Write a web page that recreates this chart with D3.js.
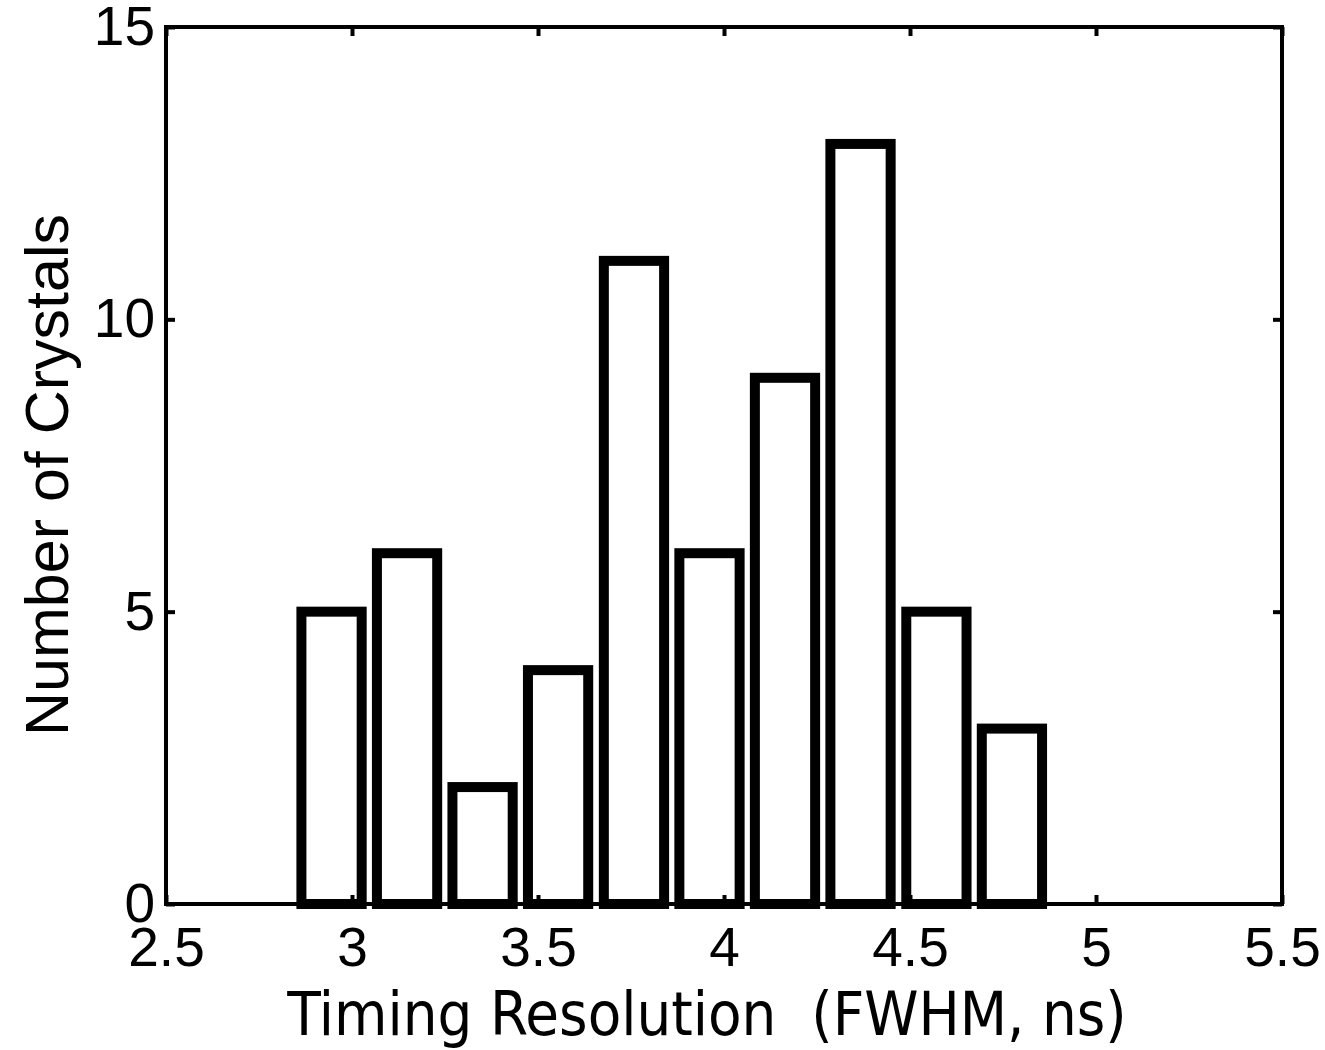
<!DOCTYPE html>
<html>
<head>
<meta charset="utf-8">
<script src="https://cdn.jsdelivr.net/npm/d3@7"></script>
<style>
  body { margin: 0; background: #fff; }
  .tick text { font-family: "Liberation Sans", Arial, sans-serif; }
</style>
</head>
<body>
<div id="chart"></div>
<script>
// histogram of timing resolution per crystal
var binCenters = [2.945, 3.148, 3.351, 3.554, 3.758, 3.961, 4.164, 4.367, 4.571, 4.774];
var counts = [5, 6, 2, 4, 11, 6, 9, 13, 5, 3];
var xTicks = [2.5, 3, 3.5, 4, 4.5, 5, 5.5];
var yTicks = [0, 5, 10, 15];
var barWidth = 0.162;

var W = 1325, H = 1050;
var margin = {top: 27, right: 43, bottom: 146, left: 166};
var width = W - margin.left - margin.right,
    height = H - margin.top - margin.bottom;

var svg = d3.select("#chart").append("svg")
  .attr("width", W)
  .attr("height", H);

var g = svg.append("g")
  .attr("transform", "translate(" + margin.left + "," + margin.top + ")");

var x = d3.scaleLinear().domain([2.5, 5.5]).range([0, width]);
var y = d3.scaleLinear().domain([0, 15]).range([height, 0]);

var tickLen = 9;

// axes: bottom & left with labels, top & right with ticks only (all inward)
var xAxis = d3.axisBottom(x).tickValues(xTicks).tickSizeInner(-tickLen).tickSizeOuter(0).tickPadding(23)
  .tickFormat(d3.format("~g"));
var yAxis = d3.axisLeft(y).tickValues(yTicks).tickSizeInner(-tickLen).tickSizeOuter(0).tickPadding(11);
var xTop = d3.axisTop(x).tickValues(xTicks).tickSizeInner(-tickLen).tickSizeOuter(0).tickFormat("");
var yRight = d3.axisRight(y).tickValues(yTicks).tickSizeInner(-tickLen).tickSizeOuter(0).tickFormat("");

// bars
g.selectAll("rect.bar")
  .data(counts)
  .enter().append("rect")
  .attr("class", "bar")
  .attr("x", function(d, i) { return x(binCenters[i] - barWidth / 2); })
  .attr("width", function(d, i) { return x(binCenters[i] + barWidth / 2) - x(binCenters[i] - barWidth / 2); })
  .attr("y", function(d) { return y(d); })
  .attr("height", function(d) { return y(0) - y(d); })
  .attr("fill", "#fff")
  .attr("stroke", "#000")
  .attr("stroke-width", 10);

var axes = [
  g.append("g").attr("transform", "translate(0," + height + ")").call(xAxis),
  g.append("g").call(yAxis),
  g.append("g").call(xTop),
  g.append("g").attr("transform", "translate(" + width + ",0)").call(yRight)
];

axes.forEach(function(a) {
  a.select(".domain").remove();
  a.selectAll(".tick line").attr("stroke", "#000").attr("stroke-width", 4);
  a.selectAll(".tick text").attr("fill", "#000").style("font-size", "55px");
});
axes[0].selectAll(".tick text").attr("dy", "0.71em");

// the box
g.append("rect")
  .attr("x", 0).attr("y", 0)
  .attr("width", width).attr("height", height)
  .attr("fill", "none")
  .attr("stroke", "#000")
  .attr("stroke-width", 4);

// axis labels
svg.append("text")
  .attr("x", 707)
  .attr("y", 1035)
  .attr("text-anchor", "middle")
  .style("font-family", "'DejaVu Sans Condensed', 'DejaVu Sans', sans-serif")
  .style("font-size", "61px")
  .style("white-space", "pre")
  .text("Timing Resolution  (FWHM, ns)");

svg.append("text")
  .attr("transform", "translate(68," + 475 + ") rotate(-90)")
  .attr("text-anchor", "middle")
  .style("font-family", "'Liberation Sans', Arial, sans-serif")
  .style("font-size", "61px")
  .text("Number of Crystals");
</script>
</body>
</html>
